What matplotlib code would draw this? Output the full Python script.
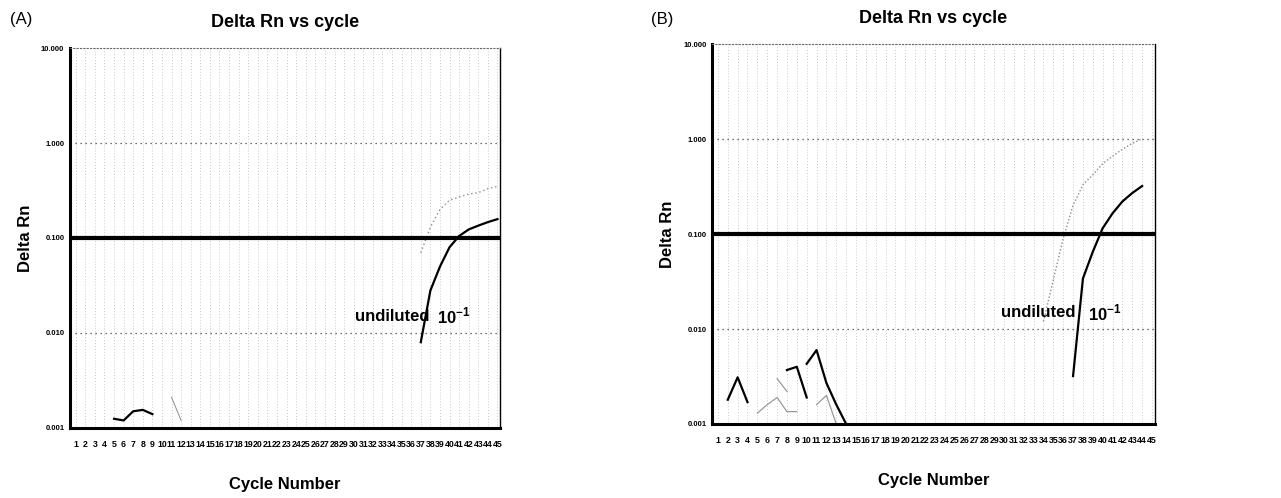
import numpy as np
import matplotlib.pyplot as plt
from matplotlib.ticker import FixedLocator, FixedFormatter

plt.rcParams["font.family"] = ["Liberation Sans", "DejaVu Sans"]
plt.rcParams["mathtext.fontset"] = "custom"
plt.rcParams["mathtext.bf"] = "Liberation Sans:bold"
plt.rcParams["mathtext.rm"] = "Liberation Sans"

# ---- data ----
cycles = list(range(1, 46))
y_ticks = [10, 1, 0.1, 0.01, 0.001]
y_labels = ["10.000", "1.000", "0.100", "0.010", "0.001"]
threshold = 0.1

# panel A
a_low_black_x = [5, 6, 7, 8, 9]
a_low_black_y = [0.00125, 0.0012, 0.0015, 0.00155, 0.0014]
a_low_grey_x = [11, 12]
a_low_grey_y = [0.0021, 0.0012]
a_dil_x = [37, 38, 39, 40, 41, 42, 43, 44, 45]
a_dil_y = [0.008, 0.028, 0.05, 0.08, 0.105, 0.123, 0.135, 0.147, 0.158]
a_undil_x = [37, 38, 39, 40, 41, 42, 43, 44, 45]
a_undil_y = [0.07, 0.13, 0.2, 0.25, 0.27, 0.29, 0.3, 0.33, 0.35]

# panel B
b_black1_x = [2, 3, 4]
b_black1_y = [0.0018, 0.0031, 0.0017]
b_black2_x = [8, 9, 10]
b_black2_y = [0.0037, 0.004, 0.0019]
b_black3_x = [10, 11, 12, 13, 14]
b_black3_y = [0.0043, 0.006, 0.0027, 0.0016, 0.001]
b_grey1_x = [5, 6, 7, 8, 9]
b_grey1_y = [0.0013, 0.0016, 0.0019, 0.00135, 0.00135]
b_grey2_x = [7, 8]
b_grey2_y = [0.003, 0.0022]
b_grey3_x = [11, 12, 13]
b_grey3_y = [0.0016, 0.002, 0.001]
b_dil_x = [37, 38, 39, 40, 41, 42, 43, 44]
b_dil_y = [0.0032, 0.034, 0.065, 0.115, 0.165, 0.22, 0.27, 0.32]
b_undil_x = [34, 35, 36, 37, 38, 39, 40, 41, 42, 43, 44]
b_undil_y = [0.012, 0.033, 0.09, 0.2, 0.33, 0.42, 0.55, 0.66, 0.78, 0.9, 1.0]

fig = plt.figure(figsize=(12.81, 4.98), dpi=100)
ax_a = fig.add_axes([0.0546, 0.1406, 0.336, 0.763])
ax_b = fig.add_axes([0.5558, 0.1486, 0.3458, 0.763])


def style_axes(ax):
    ax.set_yscale("log")
    ax.set_ylim(0.001, 10)
    ax.set_xlim(0.4, 45.3)
    # faint vertical grid at every cycle
    for c in cycles:
        ax.axvline(c, color="0.72", lw=0.6, ls=(0, (1, 2.5)), zorder=0)
    for v in [1, 0.01]:
        ax.axhline(v, color="0.25", lw=0.9, ls=(0, (1, 3)), zorder=1)
    ax.axhline(threshold, color="black", lw=3, zorder=3)
    ax.yaxis.set_major_locator(FixedLocator(y_ticks))
    ax.yaxis.set_major_formatter(FixedFormatter(y_labels))
    ax.yaxis.set_minor_locator(FixedLocator([]))
    ax.set_xticks(cycles)
    ax.set_xticklabels([str(c) for c in cycles])
    ax.tick_params(axis="x", length=0, labelsize=6.3, pad=9)
    ax.tick_params(axis="y", length=0, labelsize=5.5, pad=4)
    for lab in ax.get_xticklabels() + ax.get_yticklabels():
        lab.set_fontweight("bold")
    ax.spines["left"].set_linewidth(2.2)
    ax.spines["bottom"].set_linewidth(2.2)
    ax.spines["right"].set_linewidth(1.0)
    ax.spines["top"].set_linewidth(0.8)
    ax.spines["top"].set_linestyle((0, (1, 2)))
    ax.spines["top"].set_color("0.4")
    ax.set_title("Delta Rn vs cycle", fontsize=13, fontweight="bold", pad=15)
    ax.set_xlabel("Cycle Number", fontsize=12, fontweight="bold", labelpad=20)
    ax.set_ylabel("Delta Rn", fontsize=12, fontweight="bold", labelpad=6)


for ax in (ax_a, ax_b):
    style_axes(ax)

# panel A curves
ax_a.plot(a_low_black_x, a_low_black_y, color="black", lw=1.6)
ax_a.plot(a_low_grey_x, a_low_grey_y, color="0.6", lw=0.8)
ax_a.plot(a_undil_x, a_undil_y, color="0.55", lw=1, ls=(0, (1, 2)))
ax_a.plot(a_dil_x, a_dil_y, color="black", lw=1.6)
ax_a.text(30.1, 0.015, "undiluted", fontsize=12, fontweight="bold", va="center")
ax_a.text(38.7, 0.015, "10$^{\\mathbf{-1}}$", fontsize=12, fontweight="bold", va="center")

# panel B curves
for xs, ys in [(b_black1_x, b_black1_y), (b_black2_x, b_black2_y), (b_black3_x, b_black3_y)]:
    ax_b.plot(xs, ys, color="black", lw=1.6)
for xs, ys in [(b_grey1_x, b_grey1_y), (b_grey2_x, b_grey2_y), (b_grey3_x, b_grey3_y)]:
    ax_b.plot(xs, ys, color="0.6", lw=0.9)
ax_b.plot(b_undil_x, b_undil_y, color="0.55", lw=1, ls=(0, (1, 1.5)))
ax_b.plot(b_dil_x, b_dil_y, color="black", lw=1.6)
ax_b.text(29.7, 0.0148, "undiluted", fontsize=12, fontweight="bold", va="center")
ax_b.text(38.5, 0.0148, "10$^{\\mathbf{-1}}$", fontsize=12, fontweight="bold", va="center")

fig.text(0.008, 0.96, "(A)", fontsize=12, va="center")
fig.text(0.508, 0.96, "(B)", fontsize=12, va="center")

fig.savefig("out.png", dpi=100)
